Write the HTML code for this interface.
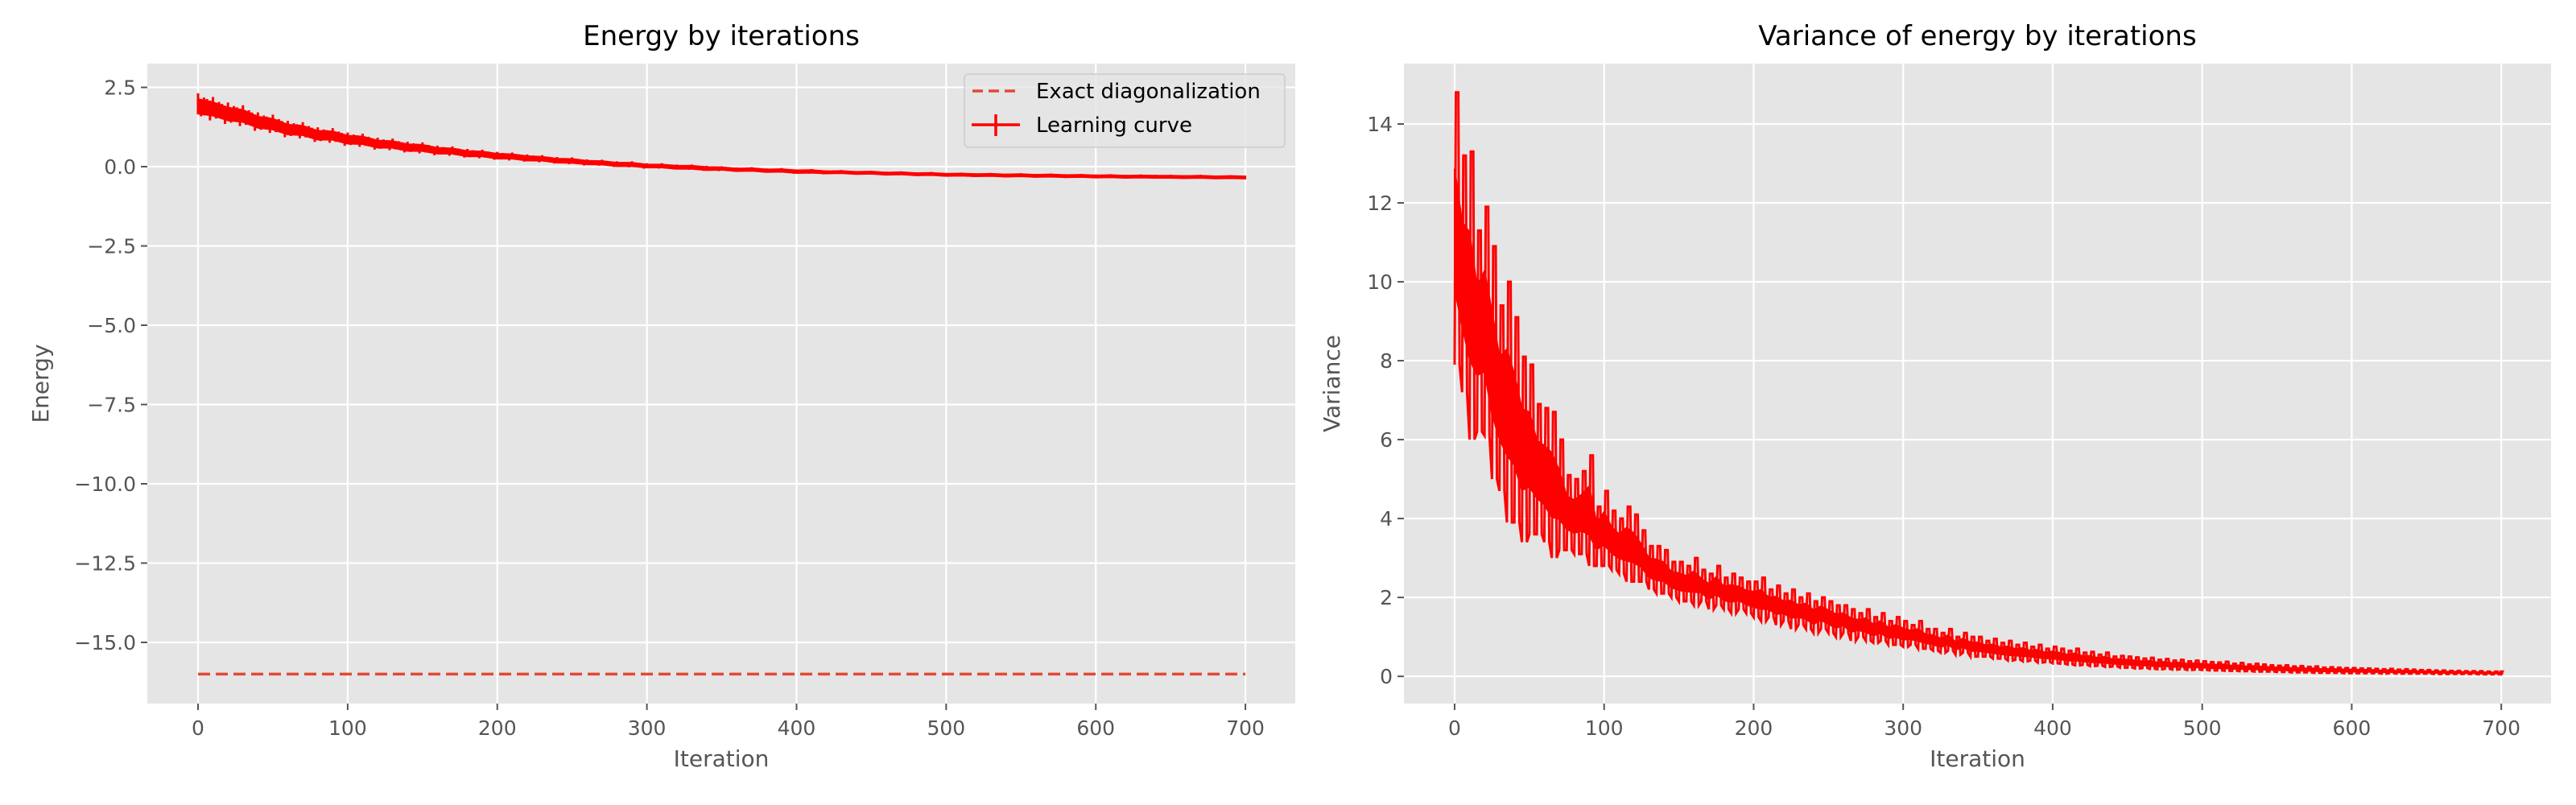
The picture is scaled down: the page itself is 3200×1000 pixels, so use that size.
<!DOCTYPE html>
<html><head><meta charset="utf-8">
<style>
html,body{margin:0;padding:0;background:#fff;}
svg{display:block;font-family:"DejaVu Sans","Liberation Sans",sans-serif;}
</style></head>
<body>
<svg id="fig" width="3200" height="1000" viewBox="0 0 3200 1000" xmlns="http://www.w3.org/2000/svg">
<rect x="0" y="0" width="3200" height="1000" fill="#fff"/>
<g id="left"></g>
<g id="right"></g>
</svg>
<script>
// ---- data ----
const energyIters = [0,10,20,30,40,50,60,70,80,90,100,110,120,130,140,150,160,170,180,190,200,210,220,230,240,250,260,270,280,290,300,310,320,330,340,350,360,370,380,390,400,410,420,430,440,450,460,470,480,490,500,510,520,530,540,550,560,570,580,590,600,610,620,630,640,650,660,670,680,690,700];
const energyMean = [1.9,1.82,1.66,1.6,1.4,1.34,1.17,1.14,0.99,0.98,0.85,0.83,0.71,0.7,0.6,0.59,0.5,0.49,0.41,0.4,0.33,0.32,0.26,0.25,0.19,0.18,0.13,0.12,0.07,0.07,0.02,0.02,-0.02,-0.02,-0.06,-0.06,-0.1,-0.09,-0.13,-0.12,-0.16,-0.15,-0.18,-0.17,-0.2,-0.19,-0.22,-0.21,-0.24,-0.23,-0.26,-0.25,-0.27,-0.26,-0.28,-0.27,-0.29,-0.28,-0.3,-0.29,-0.31,-0.3,-0.32,-0.31,-0.32,-0.32,-0.33,-0.32,-0.34,-0.33,-0.34];
const energyErr = [0.33,0.3,0.29,0.27,0.25,0.24,0.22,0.21,0.2,0.19,0.18,0.17,0.16,0.15,0.15,0.14,0.13,0.12,0.12,0.11,0.11,0.1,0.1,0.09,0.09,0.09,0.08,0.08,0.08,0.08,0.07,0.07,0.07,0.07,0.07,0.06,0.06,0.06,0.06,0.06,0.06,0.06,0.05,0.05,0.05,0.05,0.05,0.05,0.05,0.05,0.05,0.05,0.05,0.05,0.05,0.05,0.05,0.05,0.05,0.05,0.05,0.05,0.05,0.05,0.05,0.05,0.05,0.05,0.05,0.05,0.05];
const exactEnergy = -16;
const varianceMax = [14.8,13.2,13.3,11.3,11.9,10.9,9.4,10.0,9.1,8.1,7.9,6.9,6.8,6.7,6.0,5.1,5.0,5.2,5.6,4.3,4.7,4.2,4.0,4.3,4.1,3.7,3.3,3.3,3.2,2.9,
 2.9,2.8,3.0,2.7,2.6,2.8,2.5,2.6,2.5,2.4, 2.4,2.5,2.2,2.3,2.1,2.2,2.0,2.1,1.9,2.0, 1.9,1.8,1.8,1.7,1.6,1.7,1.5,1.6,1.4,1.5,
 1.4,1.3,1.4,1.2,1.2,1.1,1.2,1.0,1.1,1.0, 1.0,0.9,0.95,0.85,0.9,0.8,0.85,0.75,0.8,0.7, 0.75,0.7,0.65,0.7,0.6,0.62,0.55,0.6,0.5,0.52,
 0.5,0.48,0.45,0.47,0.42,0.44,0.4,0.42,0.38,0.4, 0.38,0.36,0.35,0.37,0.32,0.34,0.3,0.32,0.3,0.28, 0.27,0.28,0.25,0.26,0.24,0.25,0.22,0.23,0.22,0.21,
 0.21,0.2,0.2,0.19,0.18,0.19,0.17,0.18,0.17,0.16, 0.16,0.15,0.15,0.14,0.14,0.13,0.13,0.13,0.12,0.12,0.12];
const varianceMin = [7.9,7.2,6.0,6.2,6.1,5.0,4.7,3.9,3.9,3.4,3.6,3.6,3.4,3.0,3.2,3.2,3.1,3.1,2.8,2.8,2.8,2.7,2.6,2.4,2.4,2.4,2.2,2.1,2.1,2.0,
 1.9,1.9,1.8,1.9,1.7,1.8,1.7,1.6,1.7,1.6, 1.5,1.4,1.5,1.3,1.4,1.2,1.3,1.2,1.1,1.2, 1.1,1.0,1.1,0.9,1.0,0.9,0.85,0.9,0.8,0.8,
 0.75,0.8,0.7,0.7,0.65,0.6,0.65,0.55,0.6,0.5, 0.5,0.5,0.45,0.45,0.4,0.42,0.38,0.4,0.35,0.36, 0.33,0.32,0.3,0.28,0.29,0.26,0.27,0.24,0.25,0.22,
 0.22,0.2,0.21,0.19,0.18,0.19,0.17,0.18,0.16,0.17, 0.16,0.15,0.15,0.14,0.14,0.13,0.13,0.12,0.12,0.12, 0.11,0.11,0.1,0.1,0.1,0.09,0.09,0.09,0.09,0.08,
 0.08,0.08,0.08,0.08,0.07,0.08,0.07,0.07,0.07,0.07, 0.07,0.06,0.06,0.06,0.06,0.06,0.06,0.05,0.05,0.05,0.05];
const varianceStep = 5;
const xTicks = [0,100,200,300,400,500,600,700];
const energyTicks = [2.5,0,-2.5,-5,-7.5,-10,-12.5,-15];
const energyTickLabels = ["2.5","0.0","\u22122.5","\u22125.0","\u22127.5","\u221210.0","\u221212.5","\u221215.0"];
const varianceTicks = [0,2,4,6,8,10,12,14];
const varianceTickLabels = ["0","2","4","6","8","10","12","14"];

const NS = "http://www.w3.org/2000/svg";
function mk(parent, tag, attrs, text){
  const e = document.createElementNS(NS, tag);
  for (const k in attrs) e.setAttribute(k, attrs[k]);
  if (text !== undefined) e.textContent = text;
  parent.appendChild(e);
  return e;
}
function lin(d0,d1,r0,r1){return v => r0 + (v-d0)/(d1-d0)*(r1-r0);}

function axesFrame(g, L, T, R, B, sx, sy, yt, ytl, title, ylabel, ylabelX){
  const bg = mk(g,'rect',{x:L,y:T,width:R-L,height:B-T,fill:'#E5E5E5'});
  
  
  xTicks.forEach(t=>{
    const x = sx(t);
    const gl = mk(g,'line',{x1:x,x2:x,y1:T,y2:B,stroke:'#fff','stroke-width':2.2});
    
    
    mk(g,'line',{x1:x,x2:x,y1:B,y2:B+8,stroke:'#555','stroke-width':2});
    const tl = mk(g,'text',{x:x,y:B+39,'text-anchor':'middle','font-size':25,fill:'#555'},String(t));
    
    
  });
  yt.forEach((t,i)=>{
    const y = sy(t);
    const gl = mk(g,'line',{x1:L,x2:R,y1:y,y2:y,stroke:'#fff','stroke-width':2.2});
    
    
    mk(g,'line',{x1:L-8,x2:L,y1:y,y2:y,stroke:'#555','stroke-width':2});
    const tl = mk(g,'text',{x:L-14,y:y+9,'text-anchor':'end','font-size':25,fill:'#555'},ytl[i]);
    
    
  });
  const tt = mk(g,'text',{x:(L+R)/2,y:56,'text-anchor':'middle','font-size':34,fill:'#000'},title);
  
  
  const xl = mk(g,'text',{x:(L+R)/2,y:952,'text-anchor':'middle','font-size':28,fill:'#555'},'Iteration');
  
  
  const yl = mk(g,'text',{x:0,y:0,'text-anchor':'middle','font-size':28,fill:'#555',transform:`translate(${ylabelX},${(T+B)/2}) rotate(-90)`},ylabel);
  
  
}

// ---- left chart ----
(function(){
  const g = document.getElementById('left');
  const L=183,T=79,R=1609,B=874;
  const sx = lin(-33.9,733.3,L,R);
  const sy = lin(3.25,-16.93,T,B);
  axesFrame(g,L,T,R,B,sx,sy,energyTicks,energyTickLabels,'Energy by iterations','Energy',60);
  const ex = mk(g,'line',{x1:sx(energyIters[0]),x2:sx(energyIters[energyIters.length-1]),y1:sy(exactEnergy),y2:sy(exactEnergy),stroke:'#E24A33','stroke-width':3.5,'stroke-dasharray':'15,7'});
  
  
  let up=[], lo=[];
  energyIters.forEach((it,i)=>{up.push(sx(it)+','+sy(energyMean[i]+energyErr[i]*0.7)); lo.unshift(sx(it)+','+sy(energyMean[i]-energyErr[i]*0.7));});
  const band = mk(g,'polygon',{points:up.concat(lo).join(' '),fill:'#f00',stroke:'#f00','stroke-width':2});
  
  
  let d='';
  energyIters.forEach((it,i)=>{
    if(i===energyIters.length-1) return;
    const x0=sx(it), x1=sx(energyIters[i+1]);
    const m0=energyMean[i], m1=energyMean[i+1], e0=energyErr[i];
    const fr=[0,0.2,0.4,0.6,0.8];
    const amp=[1,0.6,0.85,0.5,0.95];
    const off=[0.25,-0.3,0.1,0.35,-0.2];
    fr.forEach((f,k)=>{
      const x=x0+(x1-x0)*f;
      const m=m0+(m1-m0)*f+e0*off[k];
      d+=`M${x},${sy(m+e0*amp[k])}V${sy(m-e0*amp[k])}`;
    });
  });
  const bars = mk(g,'path',{d:d,stroke:'#f00','stroke-width':3,fill:'none'});
  
  
  let ld='';
  energyIters.forEach((it,i)=>{ld+=(i?'L':'M')+sx(it)+','+sy(energyMean[i]);});
  const line = mk(g,'path',{d:ld,stroke:'#f00','stroke-width':3,fill:'none'});
  
  
  const lg = mk(g,'g',{});
  
  
  mk(lg,'rect',{x:1198,y:92,width:398,height:91,rx:5,fill:'#E5E5E5','fill-opacity':0.8,stroke:'#ccc','stroke-width':1.5});
  mk(lg,'line',{x1:1208,x2:1265,y1:113,y2:113,stroke:'#E24A33','stroke-width':3.5,'stroke-dasharray':'13,7'});
  const t1 = mk(lg,'text',{x:1287,y:122,'font-size':26,fill:'#000'},'Exact diagonalization');
  
  
  mk(lg,'line',{x1:1207,x2:1267,y1:155,y2:155,stroke:'#f00','stroke-width':3.5});
  mk(lg,'line',{x1:1237,x2:1237,y1:142,y2:169,stroke:'#f00','stroke-width':3.5});
  const t2 = mk(lg,'text',{x:1287,y:164,'font-size':26,fill:'#000'},'Learning curve');
  
  
})();

// ---- right chart ----
(function(){
  const g = document.getElementById('right');
  const L=1744,T=79,R=3169,B=874;
  const sx = lin(-33.9,733.3,L,R);
  const sy = lin(15.53,-0.69,T,B);
  axesFrame(g,L,T,R,B,sx,sy,varianceTicks,varianceTickLabels,'Variance of energy by iterations','Variance',1664);
  const n = varianceMax.length;
  let up=[], lo=[];
  for(let i=0;i<n;i++){
    const it=i*varianceStep, a=varianceMax[i], b=varianceMin[i];
    up.push(sx(it)+','+sy(b+(a-b)*0.72));
    lo.unshift(sx(it)+','+sy(b+(a-b)*0.28));
  }
  const band = mk(g,'polygon',{points:up.concat(lo).join(' '),fill:'#f00',stroke:'#f00','stroke-width':2});
  
  
  let d='';
  for(let i=0;i<n;i++){
    const it=i*varianceStep;
    const x0=sx(it), x1=sx(Math.min(it+varianceStep,700));
    const xm=(x0+x1)/2;
    d+=(i?'L':'M')+x0+','+sy(varianceMin[i])+'L'+(x0+1.5)+','+sy(varianceMax[i])+'L'+(xm)+','+sy(varianceMax[i])+'L'+(xm+1.5)+','+sy(varianceMin[i]);
  }
  const line = mk(g,'path',{d:d,stroke:'#f00','stroke-width':3,fill:'none','stroke-linejoin':'miter'});
  
  
})();
</script>
</body></html>
